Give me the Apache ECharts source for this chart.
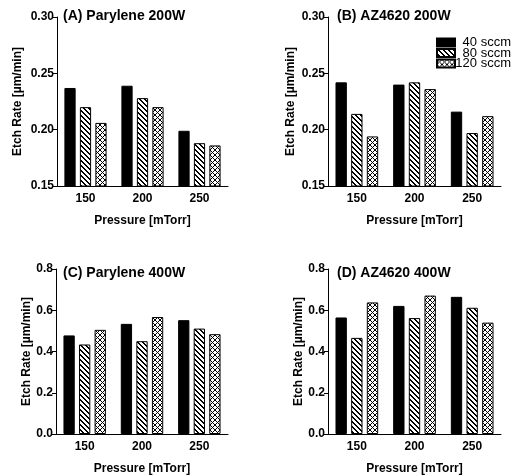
<!DOCTYPE html>
<html>
<head>
<meta charset="utf-8">
<script src="https://cdn.jsdelivr.net/npm/echarts@6/dist/echarts.min.js"></script>
<style>html,body{margin:0;padding:0;background:#fff}#c{width:511px;height:476px}</style>
</head>
<body>
<div id="c"></div>
<script>
const categories = ['150', '200', '250'];
const seriesNames = ['40 sccm', '80 sccm', '120 sccm'];
const panelTitles = ['(A) Parylene 200W', '(B) AZ4620 200W', '(C) Parylene 400W', '(D) AZ4620 400W'];
const xAxisName = 'Pressure [mTorr]';
const yAxisName = 'Etch Rate [µm/min]';

// Panel A: Parylene 200W
const parylene200_40 = [0.237, 0.239, 0.199];
const parylene200_80 = [0.220, 0.228, 0.188];
const parylene200_120 = [0.206, 0.220, 0.186];
// Panel B: AZ4620 200W
const az200_40 = [0.242, 0.240, 0.216];
const az200_80 = [0.214, 0.242, 0.197];
const az200_120 = [0.194, 0.236, 0.212];
// Panel C: Parylene 400W
const parylene400_40 = [0.478, 0.534, 0.552];
const parylene400_80 = [0.434, 0.450, 0.511];
const parylene400_120 = [0.505, 0.567, 0.484];
// Panel D: AZ4620 400W
const az400_40 = [0.565, 0.621, 0.665];
const az400_80 = [0.466, 0.562, 0.612];
const az400_120 = [0.638, 0.671, 0.540];

const panelData = [
  [parylene200_40, parylene200_80, parylene200_120],
  [az200_40, az200_80, az200_120],
  [parylene400_40, parylene400_80, parylene400_120],
  [az400_40, az400_80, az400_120]
];

function makePattern(cross) {
  const n = 5;
  const c = document.createElement('canvas');
  c.width = n; c.height = n;
  const ctx = c.getContext('2d');
  ctx.fillStyle = '#fff';
  ctx.fillRect(0, 0, n, n);
  ctx.fillStyle = '#000';
  for (let i = 0; i < n; i++) {
    if (cross) {
      ctx.fillRect(i, i, 1, 1);
      ctx.fillRect(n - 1 - i, i, 1, 1);
    } else {
      ctx.fillRect(i, i, 1, 1);
      ctx.fillRect((i + 1) % n, i, 1, 1);
    }
  }
  return c;
}
const fills = ['#000', { image: makePattern(false), repeat: 'repeat' }, { image: makePattern(true), repeat: 'repeat' }];

const FONT = 'Liberation Sans, Arial, sans-serif';
const grids = [
  { left: 57, top: 17, width: 171, height: 169 },
  { left: 328, top: 17, width: 173, height: 169 },
  { left: 56, top: 269, width: 172, height: 170 },
  { left: 328, top: 269, width: 173, height: 170 }
];
const yRanges = [
  { min: 0.15, max: 0.30, interval: 0.05, dec: 2 },
  { min: 0.15, max: 0.30, interval: 0.05, dec: 2 },
  { min: 0, max: 0.8, interval: 0.2, dec: 1 },
  { min: 0, max: 0.8, interval: 0.2, dec: 1 }
];
const titlePos = [[63, 9], [337, 9], [63, 266], [337, 266]];
const yNameGaps = [33, 31, 21, 22];

const option = {
  backgroundColor: '#fff',
  animation: false,
  textStyle: { fontFamily: FONT },
  title: panelTitles.map((t, i) => ({
    text: t, left: titlePos[i][0], top: titlePos[i][1], padding: 0,
    textStyle: { fontFamily: FONT, fontSize: 14, fontWeight: 'bold', color: '#000' }
  })),
  legend: {
    data: seriesNames,
    orient: 'vertical',
    right: 0, top: 36, padding: 0,
    itemWidth: 18, itemHeight: 8, itemGap: -2.5,
    icon: 'rect',
    formatter: name => '{t|' + name + '}',
    textStyle: {
      fontFamily: FONT, fontSize: 13, color: '#000',
      rich: { t: { fontFamily: FONT, fontSize: 13, color: '#000', width: 51, align: 'right' } }
    }
  },
  grid: grids,
  xAxis: grids.map((g, i) => ({
    type: 'category', gridIndex: i, data: categories,
    name: xAxisName, nameLocation: 'middle', nameGap: 29,
    nameTextStyle: { fontFamily: FONT, fontSize: 12, fontWeight: 'bold', color: '#000' },
    axisLine: { lineStyle: { color: '#000', width: 1 } },
    axisTick: { alignWithLabel: true, length: 3, lineStyle: { color: '#000' } },
    axisLabel: { fontFamily: FONT, fontSize: 12, fontWeight: 'bold', color: '#000', margin: 7 },
    splitLine: { show: false }
  })),
  yAxis: grids.map((g, i) => ({
    type: 'value', gridIndex: i,
    min: yRanges[i].min, max: yRanges[i].max, interval: yRanges[i].interval,
    name: yAxisName, nameLocation: 'middle', nameGap: yNameGaps[i], nameRotate: 90,
    nameTextStyle: { fontFamily: FONT, fontSize: 12, fontWeight: 'bold', color: '#000' },
    axisLine: { show: true, lineStyle: { color: '#000', width: 1 } },
    axisTick: { show: true, length: 4, lineStyle: { color: '#000' } },
    axisLabel: { fontFamily: FONT, fontSize: 12, fontWeight: 'bold', color: '#000', margin: 3,
      formatter: v => v.toFixed(yRanges[i].dec) },
    splitLine: { show: false }
  })),
  series: []
};

panelData.forEach((sets, p) => {
  sets.forEach((vals, k) => {
    option.series.push({
      name: seriesNames[k], type: 'bar', xAxisIndex: p, yAxisIndex: p,
      data: vals,
      barCategoryGap: '26%', barGap: '38%',
      itemStyle: { color: fills[k], borderColor: '#000', borderWidth: 1 }
    });
  });
});

const chart = echarts.init(document.getElementById('c'), null, { renderer: 'canvas' });
chart.setOption(option);
</script>
</body>
</html>
